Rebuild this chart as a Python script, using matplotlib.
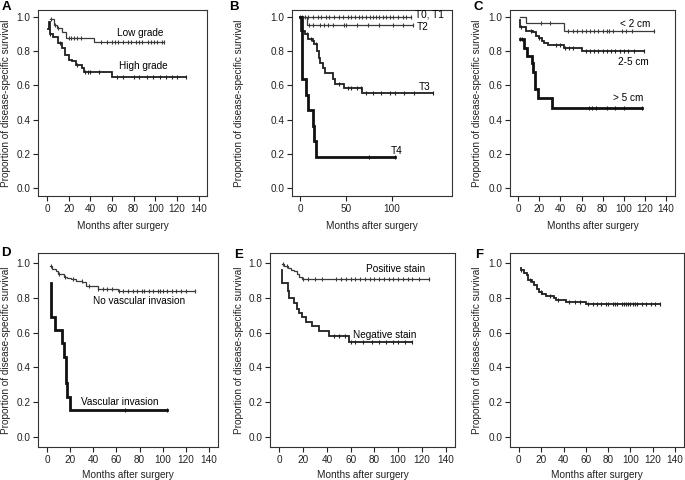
import numpy as np
import matplotlib
matplotlib.use( 'Agg' )
import matplotlib.pyplot as plt

plt.rcParams[ 'font.family' ] = [ 'Liberation Sans', 'DejaVu Sans' ]

# ---- panel A : grade
low_t = [ 2.5, 6.5, 9, 14, 18, 43, 108 ]
low_s = [ 0.985, 0.95, 0.935, 0.91, 0.875, 0.855, 0.855 ]
low_c = [ 4, 7, 10, 20, 22, 25, 28, 31, 50, 55, 60, 63, 66, 70, 75, 78, 82, 85, 88, 93, 96, 99, 102, 106, 108 ]

high_t = [ 1, 2, 3, 6, 10, 14, 17, 20, 23, 27, 32, 34, 60, 128 ]
high_s = [ 0.93, 0.97, 0.90, 0.88, 0.85, 0.82, 0.78, 0.75, 0.74, 0.72, 0.70, 0.68, 0.65, 0.65 ]
high_c = [ 3, 12, 28, 35, 38, 40, 48, 65, 70, 80, 85, 92, 98, 104, 110, 115, 120, 128 ]

# ---- panel B : T stage
t01_t = [ 0, 121 ]
t01_s = [ 1.0, 1.0 ]
t01_c = [ 0, 2, 5, 9, 14, 19, 23, 28, 32, 37, 42, 47, 52, 56, 60, 64, 68, 72, 76, 80, 83, 86,
          90, 94, 98, 102, 107, 112, 116, 121 ]

t2_t = [ 0, 7, 123 ]
t2_s = [ 1.0, 0.955, 0.955 ]
t2_c = [ 10, 14, 22, 26, 30, 36, 48, 50, 62, 74, 86, 102, 112, 123 ]

t3_t = [ 0, 1, 5.5, 8.5, 13.5, 15.5, 18, 20, 22, 24.5, 27.5, 35.5, 38.5, 47.5, 68, 145 ]
t3_s = [ 1.0, 0.92, 0.90, 0.87, 0.86, 0.84, 0.80, 0.76, 0.73, 0.70, 0.67, 0.635, 0.61, 0.585, 0.555, 0.555 ]
t3_c = [ 7, 12, 17, 42, 52, 56, 62, 66, 72, 80, 88, 98, 104, 114, 124, 145 ]

t4_t = [ 0, 2, 6.5, 8.5, 13.5, 15.5, 17, 104 ]
t4_s = [ 1.0, 0.636, 0.545, 0.455, 0.364, 0.273, 0.182, 0.182 ]
t4_c = [ 75, 104 ]

# ---- panel C : tumour size
lt2_t = [ 2, 7.5, 43, 129 ]
lt2_s = [ 1.0, 0.965, 0.92, 0.92 ]
lt2_c = [ 22, 30, 47, 52, 56, 60, 64, 68, 72, 76, 80, 84, 86, 90, 98, 102, 108, 129 ]

mid_t = [ 2, 2, 7.5, 14, 17, 20, 23, 25, 28, 43, 60, 119 ]
mid_s = [ 0.98, 0.94, 0.92, 0.91, 0.89, 0.875, 0.86, 0.845, 0.835, 0.82, 0.80, 0.80 ]
mid_c = [ 3, 12, 20, 36, 40, 44, 48, 52, 64, 68, 72, 76, 80, 84, 88, 92, 96, 100, 104, 110, 119 ]

gt5_t = [ 1.5, 6, 8.5, 13, 14.5, 16, 19, 32, 117 ]
gt5_s = [ 0.87, 0.82, 0.77, 0.73, 0.68, 0.58, 0.525, 0.47, 0.47 ]
gt5_c = [ 2, 4, 67, 70, 74, 84, 92, 100, 117 ]

# ---- panel D : vascular invasion
novi_t = [ 2, 4.5, 7.5, 9, 14.5, 17.5, 20.5, 25, 30.5, 33.5, 44, 61, 128 ]
novi_s = [ 0.98, 0.965, 0.95, 0.933, 0.92, 0.91, 0.905, 0.895, 0.887, 0.865, 0.85, 0.84, 0.84 ]
novi_c = [ 3, 10, 15, 22, 30, 36, 44, 48, 52, 56, 62, 66, 70, 74, 78, 82, 84, 88, 92, 96, 98,
           100, 104, 108, 112, 116, 120, 128 ]

vi_t = [ 3, 3, 7, 12.5, 14.5, 16.3, 17.5, 19.5, 103.5 ]
vi_s = [ 0.885, 0.69, 0.615, 0.54, 0.46, 0.31, 0.23, 0.154, 0.154 ]
vi_c = [ 67, 103.5 ]

# ---- panel E : stain
pos_t = [ 2, 4, 7, 9.7, 12.5, 14.7, 16.6, 18.6, 126 ]
pos_s = [ 0.99, 0.98, 0.97, 0.96, 0.95, 0.935, 0.92, 0.905, 0.905 ]
pos_c = [ 3, 6, 20, 24, 30, 36, 48, 52, 56, 60, 64, 68, 72, 76, 80, 84, 88, 92, 96, 100, 104,
          108, 112, 118, 126 ]

neg_t = [ 2, 2, 7, 8.3, 12.5, 14.4, 16.6, 19.4, 22, 27.7, 33, 41.6, 59, 111.6 ]
neg_s = [ 0.955, 0.885, 0.84, 0.80, 0.77, 0.735, 0.71, 0.69, 0.66, 0.635, 0.61, 0.58, 0.545, 0.545 ]
neg_c = [ 46, 50, 55, 60, 64, 70, 78, 84, 90, 96, 100, 106, 111.6 ]

# ---- panel F : all patients
all_t = [ 1.5, 1.5, 4.5, 7, 8, 12, 13.4, 16, 18, 21, 24, 31, 33, 42, 60, 126.7 ]
all_s = [ 0.97, 0.955, 0.94, 0.93, 0.90, 0.89, 0.87, 0.85, 0.834, 0.82, 0.81, 0.80, 0.786,
          0.775, 0.763, 0.763 ]
all_c = [ 2, 10, 20, 28, 35, 45, 50, 55, 62, 66, 70, 74, 78, 80, 84, 86, 88, 92, 94, 96, 98,
          100, 102, 104, 106, 110, 114, 118, 122, 126.7 ]


W, H = 685, 480
fig = plt.figure( figsize = ( W / 100, H / 100 ), dpi = 100 )

THIN = dict( color = '#3a3a3a', lw = 0.9 )
MED = dict( color = '#202020', lw = 1.3 )
THICK = dict( color = '#111111', lw = 2.0 )
FS = 7.2


def km( ax, t, s, cens, style ) :
    t = np.asarray( t, float )
    s = np.asarray( s, float )
    ax.plot( t, s, drawstyle = 'steps-post', solid_joinstyle = 'miter', **style )
    idx = np.searchsorted( t, cens, side = 'right' ) - 1
    idx = np.clip( idx, 0, len( s ) - 1 )
    ax.plot( cens, s[ idx ], ls = 'none', marker = '|', ms = 3.2,
             mew = 0.8, color = style[ 'color' ] )


def make_axes( box, letter, letter_xy, ylab_x, xlab_y, xlim, xticks, ylim ) :
    l, r, t, b = box
    ax = fig.add_axes( [ l / W, 1 - b / H, ( r - l ) / W, ( b - t ) / H ] )
    ax.set_xlim( xlim )
    ax.set_ylim( ylim )
    ax.set_xticks( xticks )
    ax.set_yticks( [ 0, 0.2, 0.4, 0.6, 0.8, 1.0 ] )
    ax.set_yticklabels( [ '0.0', '0.2', '0.4', '0.6', '0.8', '1.0' ] )
    ax.tick_params( direction = 'out', length = 3.5, width = 0.8, labelsize = FS,
                    pad = 2, color = '#222222', labelcolor = '#222222' )
    for sp in ax.spines.values() :
        sp.set_linewidth( 0.8 )
        sp.set_color( '#333333' )
    ax.set_ylabel( 'Proportion of disease-specific survival', fontsize = FS, color = '#222222' )
    ax.set_xlabel( 'Months after surgery', fontsize = FS, color = '#222222' )
    # ylabel anchor is its right edge, xlabel anchor is its top edge
    ax.yaxis.set_label_coords( ylab_x / W, 1 - ( t + b ) / 2 / H, transform = fig.transFigure )
    ax.xaxis.set_label_coords( ( l + r ) / 2 / W, 1 - xlab_y / H, transform = fig.transFigure )
    fig.text( letter_xy[ 0 ] / W, 1 - letter_xy[ 1 ] / H, letter, fontsize = 9.5,
              fontweight = 'bold', ha = 'center', va = 'center' )
    return ax


TOP_Y = ( -0.045, 1.04 )
BOT_Y = ( -0.055, 1.055 )
XT = np.arange( 0, 141, 20 )

# A
ax = make_axes( ( 38, 207, 10, 196 ), 'A', ( 6, 7 ), 11, 221, ( -8.3, 147.7 ), XT, TOP_Y )
km( ax, low_t, low_s, low_c, THIN )
km( ax, high_t, high_s, high_c, MED )
ax.text( 86, 0.905, 'Low grade', fontsize = FS, ha = 'center', va = 'center' )
ax.text( 89, 0.715, 'High grade', fontsize = FS, ha = 'center', va = 'center' )

# B
ax = make_axes( ( 292, 452, 10, 196 ), 'B', ( 234, 7 ), 244, 221, ( -9, 166 ), [ 0, 50, 100 ], TOP_Y )
km( ax, t01_t, t01_s, t01_c, THIN )
km( ax, t2_t, t2_s, t2_c, THIN )
km( ax, t3_t, t3_s, t3_c, MED )
km( ax, t4_t, t4_s, t4_c, THICK )
ax.text( 126, 1.015, 'T0, T1', fontsize = FS, ha = 'left', va = 'center' )
ax.text( 127, 0.94, 'T2', fontsize = FS, ha = 'left', va = 'center' )
ax.text( 130, 0.59, 'T3', fontsize = FS, ha = 'left', va = 'center' )
ax.text( 99, 0.22, 'T4', fontsize = FS, ha = 'left', va = 'center' )

# C
ax = make_axes( ( 510, 675, 10, 196 ), 'C', ( 478, 7 ), 482, 221, ( -7.6, 148.4 ), XT, TOP_Y )
km( ax, lt2_t, lt2_s, lt2_c, THIN )
km( ax, mid_t, mid_s, mid_c, MED )
km( ax, gt5_t, gt5_s, gt5_c, THICK )
ax.text( 111, 0.96, '< 2 cm', fontsize = FS, ha = 'center', va = 'center' )
ax.text( 109, 0.735, '2-5 cm', fontsize = FS, ha = 'center', va = 'center' )
ax.text( 104, 0.525, '> 5 cm', fontsize = FS, ha = 'center', va = 'center' )

# D
ax = make_axes( ( 38, 218, 253, 447 ), 'D', ( 6, 253 ), 11, 470, ( -8, 148 ), XT, BOT_Y )
km( ax, novi_t, novi_s, novi_c, THIN )
km( ax, vi_t, vi_s, vi_c, THICK )
ax.text( 80, 0.78, 'No vascular invasion', fontsize = FS, ha = 'center', va = 'center' )
ax.text( 63, 0.2, 'Vascular invasion', fontsize = FS, ha = 'center', va = 'center' )

# E
ax = make_axes( ( 270, 455, 253, 447 ), 'E', ( 239, 255 ), 244, 470, ( -8, 148 ), XT, BOT_Y )
km( ax, pos_t, pos_s, pos_c, THIN )
km( ax, neg_t, neg_s, neg_c, MED )
ax.text( 98, 0.965, 'Positive stain', fontsize = FS, ha = 'center', va = 'center' )
ax.text( 89, 0.585, 'Negative stain', fontsize = FS, ha = 'center', va = 'center' )

# F
ax = make_axes( ( 510, 684, 253, 447 ), 'F', ( 479, 255 ), 482, 470, ( -8, 148 ), XT, BOT_Y )
km( ax, all_t, all_s, all_c, MED )

fig.savefig( 'out.png', dpi = 100 )
